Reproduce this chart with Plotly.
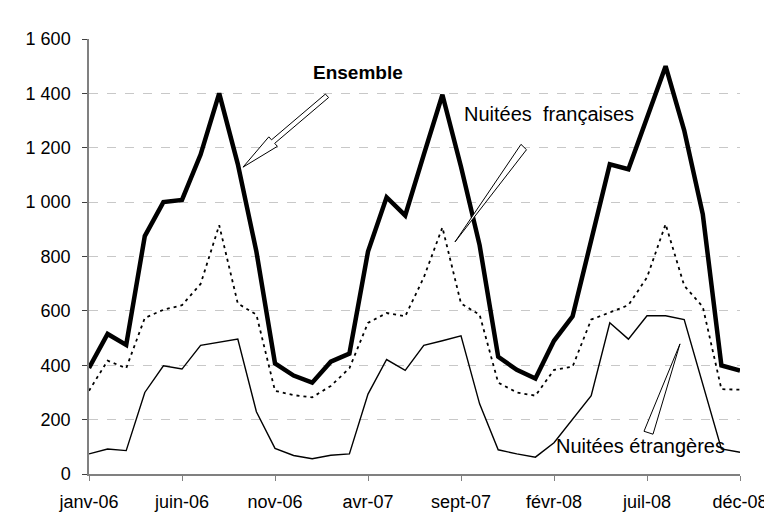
import plotly.graph_objects as go

months = ["janv-06", "févr-06", "mars-06", "avr-06", "mai-06", "juin-06", "juil-06", "août-06",
          "sept-06", "oct-06", "nov-06", "déc-06",
          "janv-07", "févr-07", "mars-07", "avr-07", "mai-07", "juin-07", "juil-07", "août-07",
          "sept-07", "oct-07", "nov-07", "déc-07",
          "janv-08", "févr-08", "mars-08", "avr-08", "mai-08", "juin-08", "juil-08", "août-08",
          "sept-08", "oct-08", "nov-08", "déc-08"]

ensemble = [390, 515, 475, 875, 1000, 1008, 1175, 1400, 1140, 818, 407, 362,
            336, 413, 443, 818, 1018, 951, 1175, 1395, 1130, 842, 431, 383,
            351, 490, 580, 860, 1139, 1121, 1306, 1500, 1264, 955, 399, 380]

francaises = [306, 417, 389, 574, 604, 621, 699, 915, 627, 586, 306, 290,
              282, 324, 389, 556, 592, 580, 723, 907, 627, 586, 336, 300,
              288, 383, 395, 568, 594, 621, 723, 919, 693, 615, 312, 310]

etrangeres = [74, 92, 86, 300, 398, 386, 473, 485, 496, 229, 94, 68,
              56, 69, 74, 294, 421, 381, 473, 490, 508, 258, 89, 74,
              62, 115, 201, 288, 556, 496, 582, 582, 568, 330, 92, 80]

x_ticks = ["janv-06", "juin-06", "nov-06", "avr-07", "sept-07", "févr-08", "juil-08", "déc-08"]
y_ticks = [0, 200, 400, 600, 800, 1000, 1200, 1400, 1600]
y_labels = ["0", "200", "400", "600", "800", "1 000", "1 200", "1 400", "1 600"]

W, H = 772, 516
ML, MR, MT, MB = 81, 40, 31, 37
PW, PH = W - ML - MR, H - MT - MB
FONT = "Liberation Sans, Arial, sans-serif"


def px(x, y):
    return (x - ML) / PW, (H - MB - y) / PH


def path(points):
    pts = [px(x, y) for x, y in points]
    return "M " + " L ".join(f"{a:.5f},{b:.5f}" for a, b in pts) + " Z"


def block_arrow(tail, tip, hw_shaft, hw_head, head_len):
    import math
    dx, dy = tip[0] - tail[0], tip[1] - tail[1]
    ln = math.hypot(dx, dy)
    ux, uy = dx / ln, dy / ln
    nx, ny = -uy, ux
    hx, hy = tip[0] - ux * head_len, tip[1] - uy * head_len
    return [
        (tail[0] + nx * hw_shaft, tail[1] + ny * hw_shaft),
        (hx + nx * hw_shaft, hy + ny * hw_shaft),
        (hx + nx * hw_head, hy + ny * hw_head),
        tip,
        (hx - nx * hw_head, hy - ny * hw_head),
        (hx - nx * hw_shaft, hy - ny * hw_shaft),
        (tail[0] - nx * hw_shaft, tail[1] - ny * hw_shaft),
    ]


fig = go.Figure()
fig.add_trace(go.Scatter(x=months, y=etrangeres, mode="lines",
                         line=dict(color="black", width=1.4), name="Nuitées étrangères"))
fig.add_trace(go.Scatter(x=months, y=francaises, mode="lines",
                         line=dict(color="black", width=1.8, dash="3px,4px"), name="Nuitées françaises"))
fig.add_trace(go.Scatter(x=months, y=ensemble, mode="lines",
                         line=dict(color="black", width=4.5), name="Ensemble"))

shapes = [
    dict(type="path", xref="paper", yref="paper",
         path=path(block_arrow((319, 89.5), (235, 163), 2.4, 6.5, 40)),
         fillcolor="white", line=dict(color="black", width=1)),
    dict(type="path", xref="paper", yref="paper",
         path=path([(513, 139.5), (518.5, 145), (447, 240)]),
         fillcolor="white", line=dict(color="black", width=1)),
    dict(type="path", xref="paper", yref="paper",
         path=path([(636, 435), (645, 438), (672, 345)]),
         fillcolor="white", line=dict(color="black", width=1)),
]

annotations = []
for text, (cx, cy), bold, size in [("Ensemble", (350, 65), True, 19),
                                   ("Nuitées\u00a0 françaises", (541, 108), False, 20),
                                   ("Nuitées étrangères", (632, 450), False, 20)]:
    ax, ay = px(cx, cy)
    annotations.append(dict(x=ax, y=ay, xref="paper", yref="paper", showarrow=False,
                            text=f"<b>{text}</b>" if bold else text,
                            xanchor="center", yanchor="middle",
                            font=dict(family=FONT, size=size, color="black")))

fig.update_layout(
    width=W, height=H,
    margin=dict(l=ML, r=MR, t=MT, b=MB, pad=0),
    paper_bgcolor="white", plot_bgcolor="white",
    showlegend=False,
    font=dict(family=FONT, size=18, color="black"),
    shapes=shapes, annotations=annotations,
    xaxis=dict(type="category", range=[0, 35], tickmode="array", tickvals=x_ticks, ticktext=x_ticks,
               showgrid=False, zeroline=False, showline=True, linecolor="#808080", linewidth=1.5,
               ticks="outside", ticklen=5, tickcolor="#808080", ticklabelstandoff=6),
    yaxis=dict(range=[0, 1600], tickmode="array", tickvals=y_ticks, ticktext=y_labels,
               showgrid=True, gridcolor="#c8c8c8", griddash="dash", gridwidth=1,
               zeroline=False, showline=True, linecolor="#808080", linewidth=1.5,
               ticks="outside", ticklen=5, tickcolor="#404040", ticklabelstandoff=8),
)

fig.write_html("out.html")
